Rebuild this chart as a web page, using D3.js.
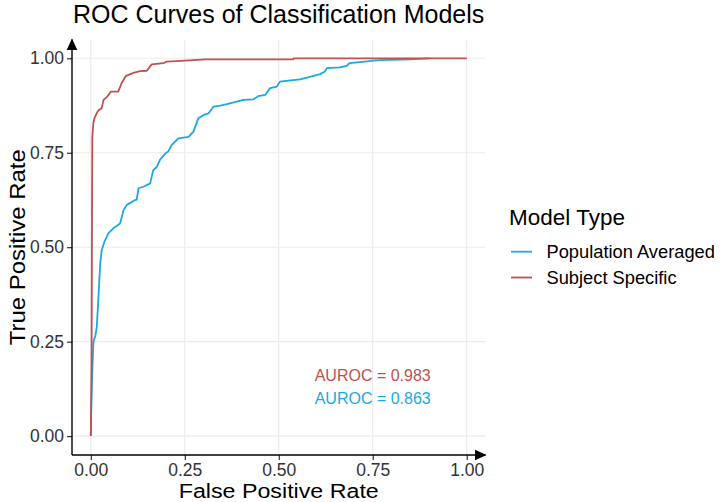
<!DOCTYPE html>
<html>
<head>
<meta charset="utf-8">
<script src="https://cdn.jsdelivr.net/npm/d3@7"></script>
<style>
  body { margin: 0; background: #fff; }
  svg { font-family: "Liberation Sans", Arial, sans-serif; }
  .grid line { stroke: #ebebeb; stroke-width: 1.1; }
  .tick text { fill: #333; font-size: 17.5px; }
  .tick line { stroke: #222; stroke-width: 1.1; }
</style>
</head>
<body>
<script>
// ROC points (false positive rate, true positive rate)
const models = ['Population Averaged', 'Subject Specific'];
const colors = ['#1ba9e1', '#c1504e'];
const auroc = [0.863, 0.983];

const paFpr = [0, 0.001, 0.003, 0.005, 0.007, 0.012, 0.016, 0.02, 0.025, 0.029, 0.036, 0.047, 0.06,
    0.078, 0.087, 0.096, 0.118, 0.122, 0.127, 0.14, 0.158, 0.166, 0.176, 0.184, 0.198, 0.206, 0.215,
    0.233, 0.26, 0.273, 0.286, 0.3, 0.313, 0.326, 0.344, 0.362, 0.388, 0.406, 0.432, 0.446, 0.464,
    0.477, 0.495, 0.503, 0.526, 0.557, 0.583, 0.61, 0.623, 0.628, 0.663, 0.681, 0.688, 0.716, 0.752,
    0.769, 0.85, 0.9];
const paTpr = [0, 0.06, 0.14, 0.2, 0.25, 0.265, 0.29, 0.36, 0.457, 0.492, 0.514, 0.537, 0.55,
    0.563, 0.598, 0.612, 0.625, 0.625, 0.656, 0.66, 0.669, 0.704, 0.713, 0.731, 0.748, 0.753, 0.77,
    0.788, 0.792, 0.806, 0.841, 0.85, 0.854, 0.872, 0.875, 0.879, 0.885, 0.89, 0.891, 0.9, 0.903,
    0.921, 0.925, 0.938, 0.941, 0.944, 0.951, 0.958, 0.965, 0.974, 0.976, 0.98, 0.987, 0.99, 0.994,
    0.995, 0.997, 1.0];

const ssFpr = [0, 0.002, 0.003, 0.004, 0.007, 0.011, 0.02, 0.029, 0.034, 0.043, 0.054, 0.073, 0.082,
    0.093, 0.105, 0.118, 0.131, 0.149, 0.162, 0.193, 0.202, 0.251, 0.304, 0.538, 0.54, 1];
const ssTpr = [0, 0.2, 0.5, 0.79, 0.83, 0.845, 0.862, 0.868, 0.89, 0.898, 0.912, 0.912, 0.934,
    0.953, 0.958, 0.963, 0.966, 0.967, 0.984, 0.987, 0.991, 0.994, 0.997, 0.997, 1.0, 1.0];

const ticks = [0, 0.25, 0.5, 0.75, 1];
const annotX = 0.75, annotY = [0.10, 0.16];

const width = 720, height = 502;
const pLeft = 72, pRight = 485.5, pTop = 39.4, pBottom = 455;

const svg = d3.select('body')
    .append('svg')
    .attr('width', width)
    .attr('height', height);

const x = d3.scaleLinear().domain([-0.05, 1.05]).range([pLeft, pRight]);
const y = d3.scaleLinear().domain([-0.05, 1.05]).range([pBottom, pTop]);

const defs = svg.append('defs');
defs.append('marker')
    .attr('id', 'arrow')
    .attr('viewBox', '0 0 12 12')
    .attr('refX', 11).attr('refY', 6)
    .attr('markerWidth', 12).attr('markerHeight', 12)
    .attr('markerUnits', 'userSpaceOnUse')
    .attr('orient', 'auto')
    .append('path')
    .attr('d', 'M0,0.5 L12,6 L0,11.5 Z')
    .attr('fill', '#000');

// grid
const grid = svg.append('g').attr('class', 'grid');
grid.selectAll('.gx').data(ticks).enter().append('line')
    .attr('x1', d => x(d)).attr('x2', d => x(d))
    .attr('y1', pTop).attr('y2', pBottom);
grid.selectAll('.gy').data(ticks).enter().append('line')
    .attr('y1', d => y(d)).attr('y2', d => y(d))
    .attr('x1', pLeft).attr('x2', pRight);

// axes
const xAxis = d3.axisBottom(x).tickValues(ticks).tickFormat(d3.format('.2f'))
    .tickSize(5).tickPadding(3.5).tickSizeOuter(0);
const yAxis = d3.axisLeft(y).tickValues(ticks).tickFormat(d3.format('.2f'))
    .tickSize(5).tickPadding(3).tickSizeOuter(0);

svg.append('g')
    .attr('transform', 'translate(0,' + pBottom + ')')
    .call(xAxis)
    .call(g => g.select('.domain').remove())
    .call(g => g.attr('font-family', null).attr('font-size', null));

svg.append('g')
    .attr('transform', 'translate(' + pLeft + ',0)')
    .call(yAxis)
    .call(g => g.select('.domain').remove())
    .call(g => g.attr('font-family', null).attr('font-size', null));

svg.append('line')
    .attr('x1', pLeft).attr('x2', pLeft)
    .attr('y1', pBottom).attr('y2', pTop)
    .attr('stroke', '#000').attr('stroke-width', 1.4)
    .attr('marker-end', 'url(#arrow)');
svg.append('line')
    .attr('x1', pLeft).attr('x2', pRight)
    .attr('y1', pBottom).attr('y2', pBottom)
    .attr('stroke', '#000').attr('stroke-width', 1.4)
    .attr('marker-end', 'url(#arrow)');

// curves
const series = [
    d3.zip(paFpr, paTpr),
    d3.zip(ssFpr, ssTpr)
];
const line = d3.line().x(d => x(d[0])).y(d => y(d[1]));

svg.selectAll('.roc')
    .data(series)
    .enter()
    .append('path')
    .attr('class', 'roc')
    .attr('d', line)
    .attr('fill', 'none')
    .attr('stroke', (d, i) => colors[i])
    .attr('stroke-width', 1.8)
    .attr('stroke-linejoin', 'round');

// AUROC labels
svg.selectAll('.auroc')
    .data(auroc)
    .enter()
    .append('text')
    .attr('x', x(annotX))
    .attr('y', (d, i) => y(annotY[i]))
    .attr('dy', '0.35em')
    .attr('text-anchor', 'middle')
    .attr('font-size', 16)
    .attr('fill', (d, i) => colors[i])
    .text(d => 'AUROC = ' + d3.format('.3f')(d));

// titles
svg.append('text')
    .attr('x', 73).attr('y', 23)
    .attr('font-size', 25)
    .attr('fill', '#000')
    .text('ROC Curves of Classification Models');

svg.append('text')
    .attr('x', (pLeft + pRight) / 2).attr('y', 498)
    .attr('text-anchor', 'middle')
    .attr('font-size', 20)
    .attr('textLength', 200)
    .attr('lengthAdjust', 'spacingAndGlyphs')
    .text('False Positive Rate');

svg.append('text')
    .attr('transform', 'translate(25,' + (pTop + pBottom) / 2 + ') rotate(-90)')
    .attr('text-anchor', 'middle')
    .attr('font-size', 21.5)
    .attr('textLength', 196)
    .attr('lengthAdjust', 'spacingAndGlyphs')
    .text('True Positive Rate');

// legend
const legend = svg.append('g');
legend.append('text')
    .attr('x', 509).attr('y', 225)
    .attr('font-size', 22.5)
    .text('Model Type');

const items = legend.selectAll('.item')
    .data(models)
    .enter()
    .append('g')
    .attr('transform', (d, i) => 'translate(0,' + (251.7 + i * 25.8) + ')');
items.append('line')
    .attr('x1', 511).attr('x2', 532)
    .attr('stroke', (d, i) => colors[i])
    .attr('stroke-width', 1.8);
items.append('text')
    .attr('x', 546.5).attr('y', 6.6)
    .attr('font-size', 18.3)
    .text(d => d);
</script>
</body>
</html>
